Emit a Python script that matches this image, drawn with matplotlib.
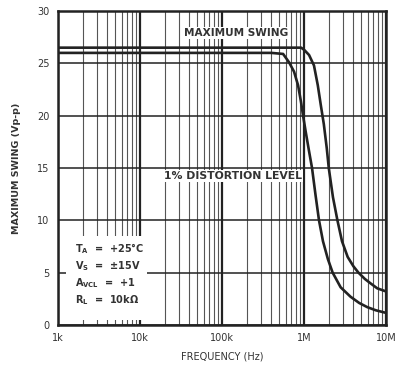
import matplotlib
matplotlib.use('Agg')
import matplotlib.pyplot as plt
from matplotlib.patches import Rectangle
from matplotlib.ticker import LogLocator, FixedLocator, NullFormatter

#-------------------------------------------------------------------------------
#DATA

#maximum output swing (Vp-p) vs frequency (Hz)
freq_max = [1e3, 1e4, 1e5, 5e5, 9.2e5, 1e6, 1.15e6, 1.32e6, 1.47e6, 1.6e6,
            1.74e6, 1.89e6, 2e6, 2.25e6, 2.55e6, 2.9e6, 3.4e6, 4e6, 4.6e6,
            5.5e6, 6.4e6, 7.8e6, 1e7]
swing_max = [26.5, 26.5, 26.5, 26.5, 26.5, 26.3, 25.8, 24.8, 22.9, 21.0,
             19.2, 16.9, 15.0, 12.2, 10.0, 8.0, 6.5, 5.6, 5.0,
             4.4, 4.0, 3.5, 3.2]

#swing at the 1% distortion level
freq_dist = [1e3, 1e4, 1e5, 4e5, 5.55e5, 6.56e5, 7.55e5, 8.45e5, 9.18e5, 9.72e5,
             1.05e6, 1.15e6, 1.25e6, 1.38e6, 1.52e6, 1.7e6, 1.95e6, 2.23e6,
             2.79e6, 3.68e6, 4.7e6, 5.9e6, 7.5e6, 1e7]
swing_dist = [26.0, 26.0, 26.0, 26.0, 25.9, 25.1, 24.2, 22.9, 21.3, 20.0,
              18.4, 16.6, 15.0, 12.4, 10.0, 8.0, 6.3, 5.0,
              3.6, 2.7, 2.1, 1.7, 1.4, 1.15]

xticks = [1e3, 1e4, 1e5, 1e6, 1e7]
xticklabels = ['1k', '10k', '100k', '1M', '10M']
yticks = [0, 5, 10, 15, 20, 25, 30]

cond_names = ['T$_A$', 'V$_S$', 'A$_{VCL}$', 'R$_L$']
cond_values = ['+25°C', '±15V', '+1', '10kΩ']

#-------------------------------------------------------------------------------
#PLOT

plt.rcParams['mathtext.default'] = 'bf'
plt.rcParams['font.family'] = 'DejaVu Sans'

fig = plt.figure(figsize=(3.96, 3.68), dpi=100)
ax = fig.add_axes([0.1465, 0.117, 0.8285, 0.853])

ax.set_xscale('log')
ax.set_xlim(1e3, 1e7)
ax.set_ylim(0, 30)

#grid: decades heavy, intermediate lines light
ax.xaxis.set_major_locator(FixedLocator(xticks))
ax.xaxis.set_minor_locator(LogLocator(base=10, subs=range(2, 10), numticks=20))
ax.xaxis.set_minor_formatter(NullFormatter())
ax.set_yticks(yticks)
ax.grid(which='major', axis='x', color='#222222', lw=1.6)
ax.grid(which='minor', axis='x', color='#555555', lw=0.8)
ax.grid(which='major', axis='y', color='#222222', lw=1.1)
ax.set_axisbelow(True)

ax.set_xticklabels(xticklabels)
ax.tick_params(which='both', length=0, labelsize=7, pad=6, colors='#333333')
for sp in ax.spines.values():
    sp.set_linewidth(1.8)
    sp.set_color('#222222')

ax.plot(freq_max, swing_max, color='#222222', lw=1.9, zorder=3)
ax.plot(freq_dist, swing_dist, color='#222222', lw=1.9, zorder=3)

ax.text(1.5e5, 27.9, 'MAXIMUM SWING', fontsize=7.6, fontweight='bold',
        color='#333333', ha='center', va='center', zorder=4,
        bbox=dict(fc='white', ec='none', pad=0.6))
ax.text(1.35e5, 14.2, '1% DISTORTION LEVEL', fontsize=7.8, fontweight='bold',
        color='#333333', ha='center', va='center', zorder=4,
        bbox=dict(fc='white', ec='none', pad=0.6))

#test conditions block
ax.add_patch(Rectangle((0.024, 0.016), 0.246, 0.267, transform=ax.transAxes,
                       fc='white', ec='none', zorder=1))
for i, (nm, val) in enumerate(zip(cond_names, cond_values)):
    yy = 0.242 - i * 0.054
    ax.text(0.052, yy, nm + '  =  ' + val, transform=ax.transAxes, fontsize=7,
            fontweight='bold', color='#333333', va='center', zorder=4)

ax.set_xlabel('FREQUENCY (Hz)', fontsize=7, color='#333333', labelpad=6)
ax.set_ylabel('MAXIMUM SWING (Vp-p)', fontsize=6.8, fontweight='bold',
              color='#333333', labelpad=12)

fig.savefig('out.png', dpi=100)
